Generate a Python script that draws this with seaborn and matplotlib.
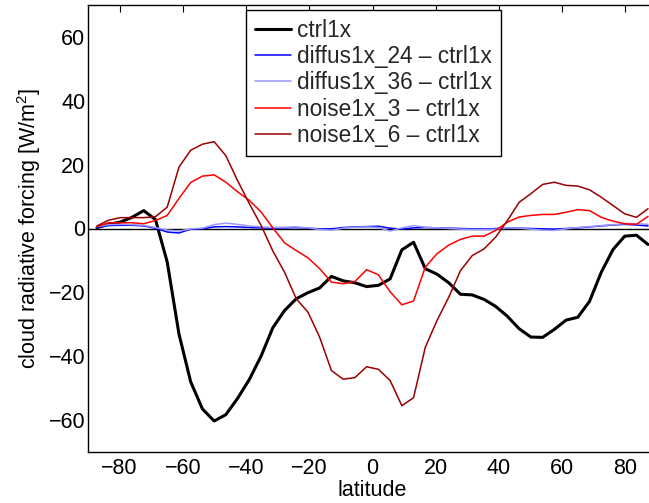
import numpy as np
import pandas as pd
import matplotlib
matplotlib.use("Agg")
import matplotlib.pyplot as plt
import seaborn as sns

# T31 Gaussian latitudes (south -> north)
lat_north = [1.86, 5.57, 9.28, 12.99, 16.70, 20.41, 24.12, 27.83, 31.54, 35.26,
             38.97, 42.68, 46.39, 50.10, 53.81, 57.52, 61.23, 64.94, 68.66, 72.37,
             76.08, 79.79, 83.50, 87.16]
latitude = [-v for v in lat_north[::-1]] + lat_north

ctrl1x = [0.3, 1.3, 2.0, 3.5, 5.6, 2.8, -10.5, -33.0, -48.0, -56.5, -60.3, -58.3,
          -53.2, -47.3, -40.0, -31.1, -25.7, -22.0, -20.1, -18.6, -15.0, -16.4, -17.0, -18.2,
          -17.8, -15.8, -6.7, -4.3, -12.6, -14.3, -17.0, -20.6, -20.8, -22.2, -24.4, -27.5,
          -31.4, -34.0, -34.1, -31.6, -28.7, -27.8, -22.8, -13.7, -6.6, -2.4, -2.1, -5.0]

diffus1x_24 = [0.4, 0.9, 1.0, 1.0, 0.8, 0.1, -1.1, -1.4, -0.2, -0.1, 0.5, 0.6,
               0.5, 0.3, 0.2, 0.1, 0.2, 0.3, 0.1, -0.1, -0.1, 0.3, 0.5, 0.6,
               0.7, 0.1, -0.2, 0.2, 0.3, 0.2, 0.1, 0.0, -0.1, -0.2, 0.0, 0.1,
               0.1, 0.0, -0.1, -0.2, 0.0, 0.2, 0.5, 0.8, 1.1, 1.3, 1.1, 0.8]

diffus1x_36 = [0.6, 1.2, 1.3, 1.2, 1.0, 0.3, -0.5, -0.8, -0.1, 0.1, 1.2, 1.7,
               1.3, 0.8, 0.5, 0.3, 0.4, 0.5, 0.2, -0.3, -0.5, 0.1, 0.4, 0.5,
               0.3, -0.8, 0.2, 0.9, 0.4, 0.2, 0.0, -0.2, -0.3, -0.4, -0.2, 0.2,
               0.1, -0.2, -0.5, -0.6, -0.1, 0.3, 0.6, 0.9, 1.2, 1.5, 1.5, 1.3]

noise1x_3 = [0.6, 1.8, 1.8, 1.8, 1.5, 2.5, 4.1, 9.4, 14.4, 16.4, 16.8, 14.5,
             11.5, 8.8, 5.2, 0.2, -4.5, -6.9, -9.2, -12.6, -16.8, -17.3, -16.6, -12.9,
             -14.5, -19.8, -23.9, -22.7, -12.1, -7.9, -5.2, -3.4, -2.4, -2.4, -0.6, 2.0,
             3.6, 4.1, 4.4, 4.4, 5.1, 5.9, 5.6, 3.5, 2.3, 1.5, 1.3, 3.8]

noise1x_6 = [0.8, 2.6, 3.4, 3.4, 3.4, 3.7, 6.7, 19.2, 24.5, 26.4, 27.2, 22.8,
             15.0, 7.8, 1.0, -7.0, -13.7, -22.0, -26.2, -34.1, -44.5, -47.2, -46.7, -43.3,
             -44.1, -47.6, -55.5, -53.0, -37.2, -28.8, -21.5, -13.2, -8.5, -6.4, -2.7, 2.5,
             8.2, 10.9, 13.8, 14.5, 13.5, 13.3, 12.1, 9.8, 7.2, 4.6, 3.5, 6.2]

series_names = ["ctrl1x", "diffus1x_24 \u2013 ctrl1x", "diffus1x_36 \u2013 ctrl1x",
                "noise1x_3 \u2013 ctrl1x", "noise1x_6 \u2013 ctrl1x"]
series_values = [ctrl1x, diffus1x_24, diffus1x_36, noise1x_3, noise1x_6]
series_colors = ["#000000", "#0000ff", "#9999ff", "#ff0000", "#990000"]
series_widths = [2.2, 1.1, 1.1, 1.1, 1.1]

x_ticks = [-80, -60, -40, -20, 0, 20, 40, 60, 80]
y_ticks = [-60, -40, -20, 0, 20, 40, 60]

sns.set_theme(style="white")
plt.rcParams["font.family"] = ["Liberation Sans", "DejaVu Sans"]
plt.rcParams["mathtext.fontset"] = "custom"
plt.rcParams["mathtext.rm"] = "Liberation Sans"
plt.rcParams["axes.linewidth"] = 1.0

FS = 15.5

fig = plt.figure(figsize=(6.49, 5.03), dpi=100)
ax = fig.add_axes([88 / 649, 51 / 503, 569 / 649, 447 / 503])

for name, vals, col, lw in zip(series_names, series_values, series_colors, series_widths):
    df = pd.DataFrame({"latitude": latitude, "value": vals})
    sns.lineplot(data=df, x="latitude", y="value", ax=ax, color=col, lw=lw,
                 label=name, sort=False, estimator=None)

ax.axhline(0, color="black", lw=1.0, zorder=0.5)

ax.set_xlim(-90, 90)
ax.set_ylim(-70, 70)
ax.set_xticks(x_ticks)
ax.set_yticks(y_ticks)
ax.tick_params(axis="both", direction="in", length=5, width=0.8, colors="black",
               labelsize=FS, top=True, right=True)
ax.tick_params(axis="x", pad=4.5)
ax.tick_params(axis="y", pad=2)
for sp in ax.spines.values():
    sp.set_color("black")
    sp.set_linewidth(1.0)

ax.set_xlabel("latitude", fontsize=FS, color="black", labelpad=0.5)
ax.set_ylabel("cloud radiative forcing [W/m$^2$]", fontsize=FS, color="black", labelpad=4)

leg = ax.legend(loc="upper left", bbox_to_anchor=((246 - 88) / 569, 1 - 5 / 447),
                borderaxespad=0, frameon=True, fancybox=False, fontsize=16.3,
                handlelength=1.6, handletextpad=0.25, labelspacing=0.14, borderpad=0.4)
leg.get_frame().set_edgecolor("black")
leg.get_frame().set_linewidth(1.0)
leg.get_frame().set_alpha(1)

fig.savefig("out.png", dpi=100)
